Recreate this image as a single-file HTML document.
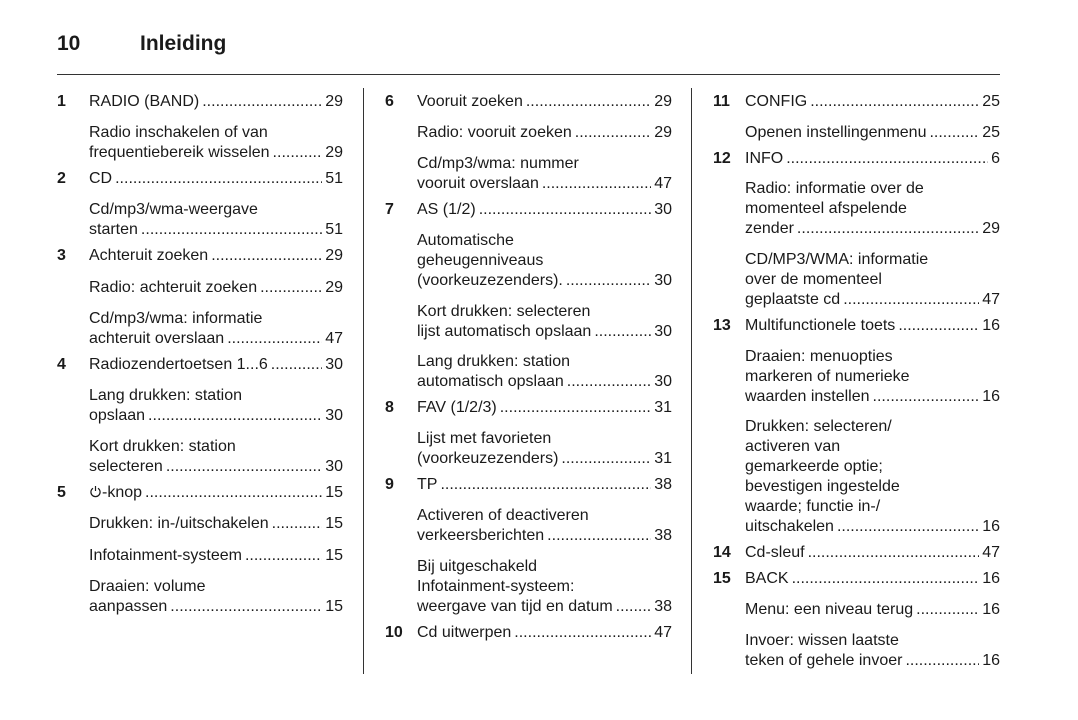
<!DOCTYPE html>
<html><head><meta charset="utf-8"><style>
html,body{margin:0;padding:0;background:#fff;}
body{width:1078px;height:720px;position:relative;overflow:hidden;font-family:"Liberation Sans",Arial,sans-serif;color:#1a1a1a;}
.hdr{position:absolute;top:32px;font-weight:bold;font-size:21px;}
.hl{position:absolute;left:57px;top:74px;width:943px;height:1px;background:#333;}
.vl{position:absolute;top:88px;width:1px;height:586px;background:#333;}
.col{position:absolute;top:92px;font-size:16px;line-height:20px;}
.e{position:relative;}
.e.n{margin-top:6px;}
.e.s{margin-top:11.2px;}
.c2 .e.s{margin-top:10.9px;}
.c3 .e.s{margin-top:10.7px;}
.e:first-child{margin-top:0;}
.num{position:absolute;left:-32px;top:0;font-weight:bold;}
.l{display:flex;white-space:nowrap;}
.d{flex:1;overflow:hidden;white-space:nowrap;margin:0 3px;letter-spacing:0px;}
.d::before{content:"............................................................................................................................";}
</style></head><body>
<div class="hdr" style="left:57px">10</div>
<div class="hdr" style="left:140px">Inleiding</div>
<div class="hl"></div>
<div class="vl" style="left:363px"></div>
<div class="vl" style="left:691px"></div>

<div class="col" style="left:89px;width:254px">
<div class="e n"><span class="num">1</span><div class="l">RADIO (BAND)<span class="d"></span>29</div></div>
<div class="e s"><div>Radio inschakelen of van</div><div class="l">frequentiebereik wisselen<span class="d"></span>29</div></div>
<div class="e n"><span class="num">2</span><div class="l">CD<span class="d"></span>51</div></div>
<div class="e s"><div>Cd/mp3/wma-weergave</div><div class="l">starten<span class="d"></span>51</div></div>
<div class="e n"><span class="num">3</span><div class="l">Achteruit zoeken<span class="d"></span>29</div></div>
<div class="e s"><div class="l">Radio: achteruit zoeken<span class="d"></span>29</div></div>
<div class="e s"><div>Cd/mp3/wma: informatie</div><div class="l">achteruit overslaan<span class="d"></span>47</div></div>
<div class="e n"><span class="num">4</span><div class="l">Radiozendertoetsen 1...6<span class="d"></span>30</div></div>
<div class="e s"><div>Lang drukken: station</div><div class="l">opslaan<span class="d"></span>30</div></div>
<div class="e s"><div>Kort drukken: station</div><div class="l">selecteren<span class="d"></span>30</div></div>
<div class="e n"><span class="num">5</span><div class="l"><span><svg width="13" height="13" viewBox="0 0 13 13" style="vertical-align:-1px"><path d="M4 3.2A4.6 4.6 0 1 0 9 3.2" fill="none" stroke="#1a1a1a" stroke-width="1.2"/><line x1="6.5" y1="1" x2="6.5" y2="6" stroke="#1a1a1a" stroke-width="1.2"/></svg>-knop</span><span class="d"></span>15</div></div>
<div class="e s"><div class="l">Drukken: in-/uitschakelen<span class="d"></span>15</div></div>
<div class="e s"><div class="l">Infotainment-systeem<span class="d"></span>15</div></div>
<div class="e s"><div>Draaien: volume</div><div class="l">aanpassen<span class="d"></span>15</div></div>
</div>

<div class="col c2" style="left:417px;width:255px">
<div class="e n"><span class="num">6</span><div class="l">Vooruit zoeken<span class="d"></span>29</div></div>
<div class="e s"><div class="l">Radio: vooruit zoeken<span class="d"></span>29</div></div>
<div class="e s"><div>Cd/mp3/wma: nummer</div><div class="l">vooruit overslaan<span class="d"></span>47</div></div>
<div class="e n"><span class="num">7</span><div class="l">AS (1/2)<span class="d"></span>30</div></div>
<div class="e s"><div>Automatische</div><div>geheugenniveaus</div><div class="l">(voorkeuzezenders).<span class="d"></span>30</div></div>
<div class="e s"><div>Kort drukken: selecteren</div><div class="l">lijst automatisch opslaan<span class="d"></span>30</div></div>
<div class="e s"><div>Lang drukken: station</div><div class="l">automatisch opslaan<span class="d"></span>30</div></div>
<div class="e n"><span class="num">8</span><div class="l">FAV (1/2/3)<span class="d"></span>31</div></div>
<div class="e s"><div>Lijst met favorieten</div><div class="l">(voorkeuzezenders)<span class="d"></span>31</div></div>
<div class="e n"><span class="num">9</span><div class="l">TP<span class="d"></span>38</div></div>
<div class="e s"><div>Activeren of deactiveren</div><div class="l">verkeersberichten<span class="d"></span>38</div></div>
<div class="e s"><div>Bij uitgeschakeld</div><div>Infotainment-systeem:</div><div class="l">weergave van tijd en datum<span class="d"></span>38</div></div>
<div class="e n"><span class="num">10</span><div class="l">Cd uitwerpen<span class="d"></span>47</div></div>
</div>

<div class="col c3" style="left:745px;width:255px">
<div class="e n"><span class="num">11</span><div class="l">CONFIG<span class="d"></span>25</div></div>
<div class="e s"><div class="l">Openen instellingenmenu<span class="d"></span>25</div></div>
<div class="e n"><span class="num">12</span><div class="l">INFO<span class="d"></span>6</div></div>
<div class="e s"><div>Radio: informatie over de</div><div>momenteel afspelende</div><div class="l">zender<span class="d"></span>29</div></div>
<div class="e s"><div>CD/MP3/WMA: informatie</div><div>over de momenteel</div><div class="l">geplaatste cd<span class="d"></span>47</div></div>
<div class="e n"><span class="num">13</span><div class="l">Multifunctionele toets<span class="d"></span>16</div></div>
<div class="e s"><div>Draaien: menuopties</div><div>markeren of numerieke</div><div class="l">waarden instellen<span class="d"></span>16</div></div>
<div class="e s"><div>Drukken: selecteren/</div><div>activeren van</div><div>gemarkeerde optie;</div><div>bevestigen ingestelde</div><div>waarde; functie in-/</div><div class="l">uitschakelen<span class="d"></span>16</div></div>
<div class="e n"><span class="num">14</span><div class="l">Cd-sleuf<span class="d"></span>47</div></div>
<div class="e n"><span class="num">15</span><div class="l">BACK<span class="d"></span>16</div></div>
<div class="e s"><div class="l">Menu: een niveau terug<span class="d"></span>16</div></div>
<div class="e s"><div>Invoer: wissen laatste</div><div class="l">teken of gehele invoer<span class="d"></span>16</div></div>
</div>
</body></html>
